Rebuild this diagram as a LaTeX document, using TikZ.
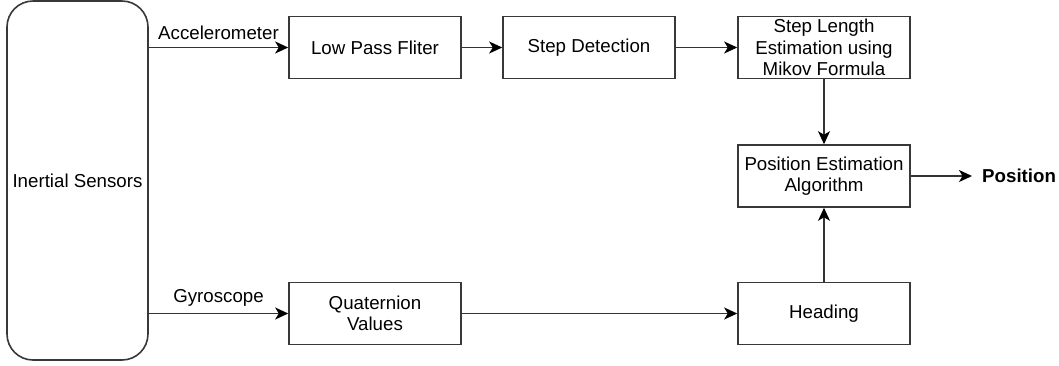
\documentclass[tikz,border=0pt]{standalone}
\usepackage{fontspec}
\setmainfont{Liberation Sans}
\usetikzlibrary{arrows.meta}
\begin{document}
\begin{tikzpicture}[x=1pt,y=-1pt,
  box/.style={draw=black!78,line width=1.6pt,minimum width=172pt,minimum height=62pt,
    align=center,inner sep=0pt,font=\fontsize{18.7}{21}\selectfont},
  conn/.style={draw=black!80,line width=1.5pt,-{Stealth[length=13pt,width=12pt,inset=3.5pt,color=black]}},
  lbl/.style={font=\fontsize{18.7}{21}\selectfont,inner sep=0pt}]
\useasboundingbox (0,0) rectangle (1059,365);
\node[box,rounded corners=26pt,minimum width=141pt,minimum height=359pt] (sens) at (77.5,180.5) {Inertial Sensors};
\node[box] (lpf) at (375,47.5) {Low Pass Fliter};
\node[box] (det) at (589,47.5) {Step Detection};
\node[box,font=\fontsize{18.7}{21.5}\selectfont] (len) at (824,47.5) {Step Length\\Estimation using\\Mikov Formula};
\node[box] (pos) at (824,176) {Position Estimation\\Algorithm};
\node[box] (quat) at (375,313.5) {Quaternion\\Values};
\node[box] (head) at (824,313.5) {Heading};
\node[lbl,anchor=west,font=\bfseries\fontsize{18.7}{21}\selectfont] (out) at (982,176) {Position};
\coordinate (aw) at (sens.east |- lpf);
\coordinate (gw) at (sens.east |- quat);
\draw[conn] (aw) -- node[lbl,above=7pt] {Accelerometer} (lpf.west);
\draw[conn] (gw) -- node[lbl,above=6pt] {Gyroscope} (quat.west);
\draw[conn] (lpf) -- (det);
\draw[conn] (det) -- (len);
\draw[conn] (len) -- (pos);
\draw[conn] (head) -- (pos);
\draw[conn] (quat) -- (head);
\draw[conn] (pos.east) -- ([xshift=-10pt]out.west);
\end{tikzpicture}
\end{document}
